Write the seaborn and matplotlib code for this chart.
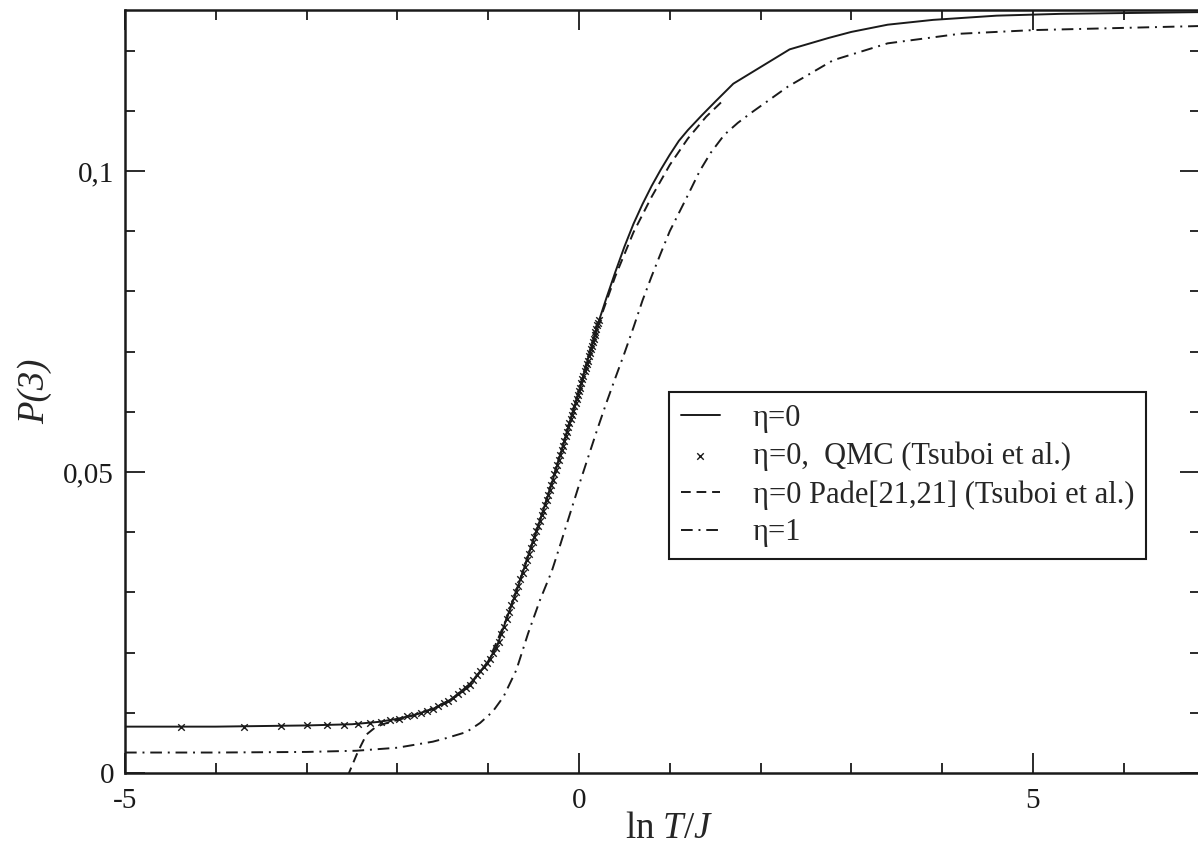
import numpy as np
import matplotlib
matplotlib.use("Agg")
from matplotlib import pyplot as plt
from matplotlib.ticker import MultipleLocator
import seaborn as sns

# eta = 0, solid curve (ln T/J, P(3))
eta0_lnT = [-5.0, -4.0, -3.0, -2.5, -2.2, -2.0, -1.8, -1.6, -1.4, -1.2, -1.0, -0.9,
            -0.8, -0.7, -0.6, -0.5, -0.4, -0.3, -0.2, -0.1, 0.0, 0.1, 0.2, 0.3,
            0.4, 0.5, 0.6, 0.7, 0.8, 0.9, 1.0, 1.1, 1.2, 1.35, 1.5, 1.7, 2.32,
            2.75, 3.0, 3.4, 3.9, 4.6, 5.3, 6.9]
eta0_P = [0.0077, 0.0077, 0.0079, 0.0081, 0.0085, 0.0090, 0.0097, 0.0107, 0.0123,
          0.0148, 0.0185, 0.0212, 0.0255, 0.0297, 0.0342, 0.0388, 0.0433, 0.0481,
          0.0532, 0.0584, 0.0634, 0.0688, 0.0742, 0.0788, 0.0832, 0.0874, 0.0912,
          0.0945, 0.0975, 0.1002, 0.1027, 0.1050, 0.1068, 0.1092, 0.1115, 0.1145,
          0.1202, 0.1221, 0.1231, 0.1243, 0.1251, 0.1258, 0.1261, 0.1264]

# QMC points (Tsuboi et al.)
qmc_lnT = [-4.382, -3.689, -3.283, -2.996, -2.773, -2.590, -2.436, -2.303, -2.185,
           -2.079, -1.984, -1.897, -1.817, -1.743, -1.674, -1.609, -1.549, -1.492,
           -1.438, -1.386, -1.337, -1.291, -1.247, -1.204, -1.163, -1.124, -1.086,
           -1.050, -1.015, -0.981, -0.948, -0.916, -0.885, -0.856, -0.827, -0.798,
           -0.771, -0.744, -0.718, -0.693, -0.668, -0.644, -0.621, -0.598, -0.575,
           -0.553, -0.532, -0.511, -0.490, -0.470, -0.450, -0.431, -0.412, -0.393,
           -0.375, -0.357, -0.339, -0.322, -0.304, -0.288, -0.271, -0.255, -0.239,
           -0.223, -0.208, -0.192, -0.177, -0.162, -0.148, -0.134, -0.119, -0.105,
           -0.092, -0.078, -0.065, -0.051, -0.038, -0.025, -0.013, 0.000, 0.012,
           0.025, 0.037, 0.049, 0.061, 0.072, 0.084, 0.095, 0.107, 0.118, 0.129,
           0.140, 0.151, 0.161, 0.172, 0.182, 0.193, 0.203, 0.213, 0.223]
qmc_P = [0.0077, 0.0077, 0.0078, 0.0079, 0.0080, 0.0080, 0.0081, 0.0083, 0.0085,
         0.0088, 0.0090, 0.0094, 0.0096, 0.0100, 0.0103, 0.0107, 0.0111, 0.0116,
         0.0120, 0.0125, 0.0131, 0.0137, 0.0142, 0.0147, 0.0155, 0.0162, 0.0169,
         0.0176, 0.0182, 0.0190, 0.0199, 0.0208, 0.0218, 0.0231, 0.0243, 0.0256,
         0.0267, 0.0279, 0.0290, 0.0300, 0.0311, 0.0322, 0.0332, 0.0343, 0.0354,
         0.0364, 0.0373, 0.0383, 0.0392, 0.0402, 0.0411, 0.0419, 0.0428, 0.0436,
         0.0445, 0.0454, 0.0462, 0.0470, 0.0479, 0.0487, 0.0496, 0.0504, 0.0512,
         0.0520, 0.0528, 0.0536, 0.0544, 0.0552, 0.0559, 0.0566, 0.0574, 0.0581,
         0.0588, 0.0595, 0.0601, 0.0609, 0.0615, 0.0622, 0.0628, 0.0634, 0.0640,
         0.0648, 0.0654, 0.0660, 0.0667, 0.0673, 0.0679, 0.0685, 0.0692, 0.0698,
         0.0704, 0.0710, 0.0716, 0.0721, 0.0727, 0.0732, 0.0738, 0.0744, 0.0748,
         0.0753]

# Pade[21,21] (Tsuboi et al.)
pade_lnT = [-2.55, -2.45, -2.40, -2.34, -2.25, -2.16, -2.05, -1.9, -1.6, -1.4, -1.2,
            -1.0, -0.8, -0.6, -0.4, -0.2, 0.0, 0.2, 0.4, 0.6, 0.8, 1.0, 1.2, 1.4, 1.6]
pade_P = [-0.0006, 0.0030, 0.0046, 0.0064, 0.0075, 0.0081, 0.0086, 0.0092, 0.0107,
          0.0123, 0.0148, 0.0185, 0.0255, 0.0342, 0.0433, 0.0532, 0.0634, 0.0740,
          0.0825, 0.0898, 0.0957, 0.1010, 0.1054, 0.1090, 0.1119]

# eta = 1
eta1_lnT = [-5.0, -4.0, -3.0, -2.45, -2.0, -1.61, -1.46, -1.24, -1.09, -0.95, -0.83,
            -0.69, -0.56, -0.43, -0.3, -0.2, -0.1, 0.0, 0.1, 0.2, 0.3, 0.4, 0.5,
            0.6, 0.7, 0.8, 0.9, 1.0, 1.1, 1.2, 1.33, 1.45, 1.6, 1.75, 1.9, 2.3,
            2.8, 3.4, 4.2, 5.0, 6.9]
eta1_P = [0.0034, 0.0034, 0.0035, 0.0037, 0.0042, 0.0052, 0.0058, 0.0068, 0.0083,
          0.0102, 0.0127, 0.0171, 0.0232, 0.0287, 0.0335, 0.0382, 0.0430, 0.0478,
          0.0524, 0.0570, 0.0614, 0.0656, 0.0697, 0.0740, 0.0785, 0.0825, 0.0863,
          0.0900, 0.0930, 0.0960, 0.1000, 0.1030, 0.1060, 0.1080, 0.1097, 0.1140,
          0.1184, 0.1212, 0.1228, 0.1234, 0.1241]

sns.set_theme(style="ticks")
plt.rcParams["font.family"] = ["Liberation Serif", "DejaVu Serif"]
plt.rcParams["mathtext.fontset"] = "custom"
plt.rcParams["mathtext.rm"] = "Liberation Serif"
plt.rcParams["mathtext.it"] = "Liberation Serif:italic"

fig = plt.figure(figsize=(11.98, 8.46), dpi=100)
ax = fig.add_axes([125 / 1198, 73 / 846, 1075 / 1198, 763 / 846])

lw = 1.4
sns.lineplot(x=eta0_lnT, y=eta0_P, ax=ax, color="k", linewidth=lw,
             sort=False, estimator=None, label="η=0")
sns.scatterplot(x=qmc_lnT, y=qmc_P, ax=ax, color="k", marker="x", s=22,
                linewidth=1.0, label="η=0,  QMC (Tsuboi et al.)", zorder=3)
sns.lineplot(x=pade_lnT, y=pade_P, ax=ax, color="k", linewidth=lw,
             linestyle=(0, (5, 3)), sort=False, estimator=None,
             label="η=0 Pade[21,21] (Tsuboi et al.)")
sns.lineplot(x=eta1_lnT, y=eta1_P, ax=ax, color="k", linewidth=lw,
             linestyle=(0, (6, 3, 1, 3)), sort=False, estimator=None, label="η=1")

ax.set_xlim(-5, 6.84)
ax.set_ylim(0, 0.12674)
ax.set_xticks([-5, 0, 5])
ax.set_xticklabels(["-5", "0", "5"])
ax.xaxis.set_minor_locator(MultipleLocator(1))
ax.set_yticks([0, 0.05, 0.1])
ax.set_yticklabels(["0", "0,05", "0,1"])
ax.yaxis.set_minor_locator(MultipleLocator(0.01))

ax.tick_params(which="both", direction="in", top=True, right=True,
               colors="k", labelsize=21, pad=8)
ax.tick_params(axis="x", which="major", pad=11)
ax.tick_params(which="major", length=14.4, width=1.3)
ax.tick_params(which="minor", length=7.2, width=1.3)
for sp in ax.spines.values():
    sp.set_visible(True)
    sp.set_linewidth(1.8)
    sp.set_color("k")

ax.set_xlabel(r"ln $T/J$", fontsize=26.5)
ax.set_ylabel("P(3)", fontsize=26.5, fontstyle="italic")
ax.xaxis.set_label_coords(0.506, -0.05)
ax.yaxis.set_label_coords(-0.068, 0.5)

leg = ax.legend(loc="upper left", bbox_to_anchor=(0.506, 0.499), fontsize=22,
                frameon=True, fancybox=False, framealpha=1, edgecolor="k",
                handlelength=1.3, handletextpad=1.07, labelspacing=0.29,
                borderpad=0.38, borderaxespad=0)
leg.get_frame().set_linewidth(1.5)

fig.savefig("out.png", dpi=100)
plt.close()
